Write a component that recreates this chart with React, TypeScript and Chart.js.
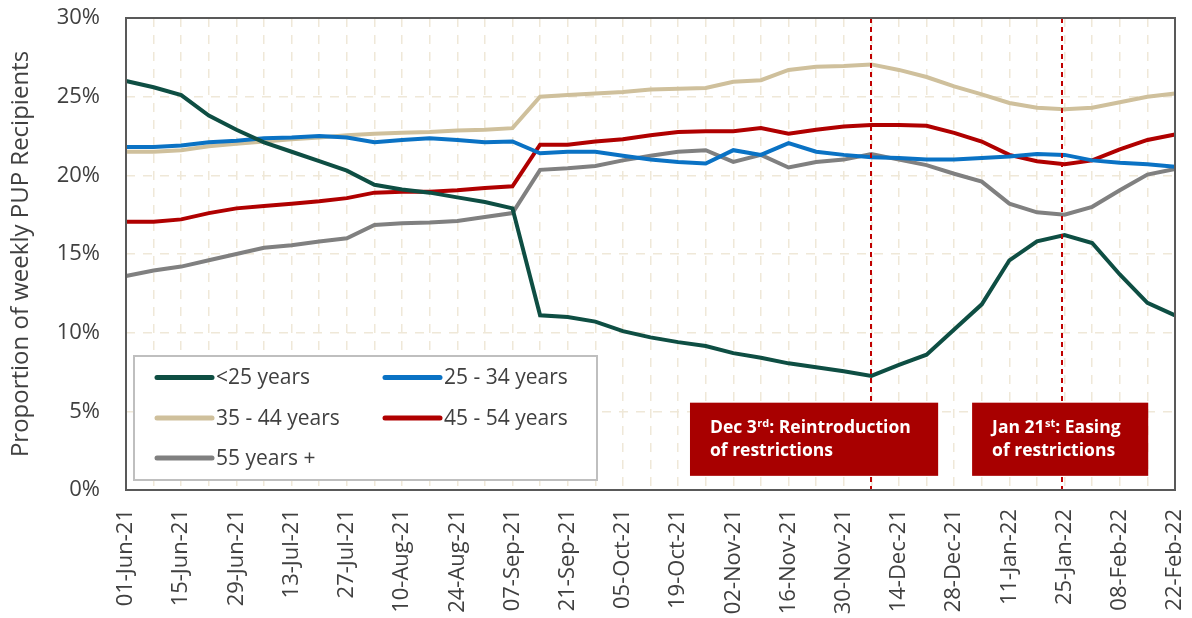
import React, { useEffect, useRef } from "react";
import { Chart, registerables } from "chart.js";

Chart.register(...registerables);

const DATES = [
  "01-Jun-21", "08-Jun-21", "15-Jun-21", "22-Jun-21", "29-Jun-21", "06-Jul-21", "13-Jul-21", "20-Jul-21",
  "27-Jul-21", "03-Aug-21", "10-Aug-21", "17-Aug-21", "24-Aug-21", "31-Aug-21", "07-Sep-21", "14-Sep-21",
  "21-Sep-21", "28-Sep-21", "05-Oct-21", "12-Oct-21", "19-Oct-21", "26-Oct-21", "02-Nov-21", "09-Nov-21",
  "16-Nov-21", "23-Nov-21", "30-Nov-21", "07-Dec-21", "14-Dec-21", "21-Dec-21", "28-Dec-21", "04-Jan-22",
  "11-Jan-22", "18-Jan-22", "25-Jan-22", "01-Feb-22", "08-Feb-22", "15-Feb-22", "22-Feb-22",
];

const SERIES_NAMES = ["<25 years", "25 - 34 years", "35 - 44 years", "45 - 54 years", "55 years +"];

const UNDER_25 = [26.0, 25.6, 25.1, 23.8, 22.9, 22.1, 21.5, 20.9, 20.3, 19.4, 19.1, 18.9, 18.6, 18.3, 17.9, 11.1, 11.0, 10.7, 10.1, 9.7, 9.4, 9.15, 8.7, 8.4, 8.05, 7.8, 7.55, 7.25, 7.95, 8.6, 10.2, 11.8, 14.6, 15.8, 16.2, 15.7, 13.7, 11.9, 11.1];
const AGE_25_34 = [21.8, 21.8, 21.9, 22.1, 22.2, 22.35, 22.4, 22.5, 22.4, 22.1, 22.25, 22.35, 22.25, 22.1, 22.15, 21.4, 21.5, 21.5, 21.25, 21.0, 20.85, 20.75, 21.6, 21.3, 22.05, 21.5, 21.3, 21.15, 21.1, 21.0, 21.0, 21.1, 21.2, 21.35, 21.3, 20.95, 20.8, 20.7, 20.55];
const AGE_35_44 = [21.5, 21.5, 21.6, 21.85, 22.0, 22.15, 22.3, 22.4, 22.55, 22.65, 22.7, 22.75, 22.85, 22.9, 23.0, 25.0, 25.1, 25.2, 25.3, 25.45, 25.5, 25.55, 25.95, 26.05, 26.7, 26.9, 26.95, 27.05, 26.7, 26.25, 25.65, 25.15, 24.6, 24.3, 24.2, 24.3, 24.65, 25.0, 25.2];
const AGE_45_54 = [17.05, 17.05, 17.2, 17.6, 17.9, 18.05, 18.2, 18.35, 18.55, 18.9, 18.95, 18.95, 19.05, 19.2, 19.3, 21.95, 21.95, 22.15, 22.3, 22.55, 22.75, 22.8, 22.8, 23.0, 22.65, 22.9, 23.1, 23.2, 23.2, 23.15, 22.7, 22.15, 21.3, 20.9, 20.7, 20.95, 21.65, 22.25, 22.6];
const AGE_55_PLUS = [13.6, 13.95, 14.2, 14.6, 15.0, 15.4, 15.55, 15.8, 16.0, 16.85, 16.95, 17.0, 17.1, 17.35, 17.6, 20.35, 20.45, 20.6, 20.95, 21.25, 21.5, 21.6, 20.85, 21.3, 20.5, 20.85, 21.0, 21.35, 21.0, 20.65, 20.1, 19.6, 18.2, 17.65, 17.5, 18.0, 19.05, 20.05, 20.4];

const SERIES_COLORS = ["#0E4E43", "#0A72C4", "#CFC09C", "#B00000", "#808080"];

const Y_MIN = 0;
const Y_MAX = 30;
const Y_STEP = 5;

const EVENT_INDEX = [27, 33.9];
const EVENT_LABELS = [
  { pre: "Dec 3", sup: "rd", post: ": Reintroduction", line2: "of restrictions" },
  { pre: "Jan 21", sup: "st", post: ": Easing", line2: "of restrictions" },
];
// box extents in data space: [xFrom, xTo, yTop, yBottom]
const EVENT_BOXES = [
  [20.43, 29.42, 5.55, 0.9],
  [30.65, 37.03, 5.55, 0.9],
];

const FONT = "'Open Sans', 'Noto Sans', sans-serif";
const TEXT_COLOR = "#404040";
const GRID_COLOR = "#EFE8D8";

const overlayPlugin = {
  id: "overlay",
  afterDatasetsDraw(chart: any) {
    const { ctx, chartArea: ca } = chart;
    const xs = chart.scales.x;
    const ys = chart.scales.y;

    // event dashed lines
    ctx.save();
    ctx.strokeStyle = "#C00000";
    ctx.lineWidth = 2;
    ctx.setLineDash([5, 4]);
    EVENT_INDEX.forEach((i) => {
      const px = Math.round(xs.getPixelForValue(i));
      ctx.beginPath();
      ctx.moveTo(px, ca.top);
      ctx.lineTo(px, ca.bottom);
      ctx.stroke();
    });
    ctx.restore();

    // event boxes
    EVENT_BOXES.forEach((b, k) => {
      const x0 = xs.getPixelForValue(b[0]);
      const x1 = xs.getPixelForValue(b[1]);
      const y0 = ys.getPixelForValue(b[2]);
      const y1 = ys.getPixelForValue(b[3]);
      ctx.save();
      ctx.fillStyle = "#A80000";
      ctx.fillRect(x0, y0, x1 - x0, y1 - y0);
      const lab = EVENT_LABELS[k];
      ctx.fillStyle = "#FFFFFF";
      ctx.textBaseline = "middle";
      ctx.textAlign = "left";
      let tx = x0 + 20;
      const ty1 = y0 + 25;
      const ty2 = y0 + 48;
      ctx.font = `bold 17.5px ${FONT}`;
      ctx.fillText(lab.pre, tx, ty1);
      tx += ctx.measureText(lab.pre).width;
      ctx.font = `bold 11px ${FONT}`;
      ctx.fillText(lab.sup, tx + 0.5, ty1 - 4);
      tx += ctx.measureText(lab.sup).width + 0.5;
      ctx.font = `bold 17.5px ${FONT}`;
      ctx.fillText(lab.post, tx, ty1);
      ctx.fillText(lab.line2, x0 + 20, ty2);
      ctx.restore();
    });

    // frame
    ctx.save();
    ctx.strokeStyle = "#595959";
    ctx.lineWidth = 2;
    ctx.strokeRect(ca.left, ca.top, ca.right - ca.left, ca.bottom - ca.top);
    ctx.restore();

    // legend
    const lx = ca.left + 8;
    const ly = ca.top + 338;
    const lw = 463;
    const lh = 124;
    ctx.save();
    ctx.fillStyle = "#FFFFFF";
    ctx.fillRect(lx, ly, lw, lh);
    ctx.strokeStyle = "#BFBFBF";
    ctx.lineWidth = 2;
    ctx.strokeRect(lx, ly, lw, lh);
    const rowY = [21.5, 62, 102];
    const colX = [23, 251];
    ctx.font = `21px ${FONT}`;
    ctx.textBaseline = "middle";
    ctx.textAlign = "left";
    chart.data.datasets.forEach((ds: any, i: number) => {
      const r = Math.floor(i / 2);
      const c = i % 2;
      const sx = lx + colX[c];
      const sy = ly + rowY[r];
      ctx.strokeStyle = ds.borderColor;
      ctx.lineWidth = 5;
      ctx.lineCap = "round";
      ctx.beginPath();
      ctx.moveTo(sx, sy);
      ctx.lineTo(sx + 55, sy);
      ctx.stroke();
      ctx.fillStyle = TEXT_COLOR;
      ctx.fillText(ds.label, sx + 59, sy + 1);
    });
    ctx.restore();
  },
};

export default function App() {
  const ref = useRef<HTMLCanvasElement | null>(null);

  useEffect(() => {
    if (!ref.current) return;
    const values = [UNDER_25, AGE_25_34, AGE_35_44, AGE_45_54, AGE_55_PLUS];
    const chart = new Chart(ref.current, {
      type: "line",
      data: {
        labels: DATES,
        datasets: SERIES_NAMES.map((name, i) => ({
          label: name,
          data: values[i],
          borderColor: SERIES_COLORS[i],
          backgroundColor: SERIES_COLORS[i],
          borderWidth: 4,
          pointRadius: 0,
          tension: 0,
          fill: false,
        })),
      },
      options: {
        animation: false,
        responsive: true,
        maintainAspectRatio: false,
        layout: { padding: { top: 18, right: 17, left: 0, bottom: 0 } },
        plugins: { legend: { display: false }, tooltip: { enabled: false } },
        scales: {
          x: {
            type: "category",
            offset: false,
            grid: { color: GRID_COLOR, lineWidth: 1.5, drawTicks: false, borderDash: [9, 8] } as any,
            border: { display: false, dash: [9, 8] },
            ticks: {
              autoSkip: false,
              minRotation: 90,
              maxRotation: 90,
              padding: 19,
              color: TEXT_COLOR,
              font: { family: FONT, size: 22 },
              callback: (_v: any, idx: number) => (idx % 2 === 0 ? DATES[idx] : ""),
            },
            afterFit: (s: any) => {
              s.height = 128;
              s.paddingLeft = 0;
              s.paddingRight = 0;
            },
          },
          y: {
            min: Y_MIN,
            max: Y_MAX,
            grid: { color: GRID_COLOR, lineWidth: 1.5, drawTicks: false, borderDash: [9, 8] } as any,
            border: { display: false, dash: [9, 8] },
            ticks: {
              stepSize: Y_STEP,
              padding: 26,
              color: TEXT_COLOR,
              font: { family: FONT, size: 22 },
              callback: (v: any) => `${v}%`,
            },
            title: {
              display: true,
              text: "Proportion of weekly PUP Recipients",
              color: TEXT_COLOR,
              font: { family: FONT, size: 24 },
              padding: { top: 7, bottom: 2 },
            },
            afterFit: (s: any) => {
              s.width = 126;
              s.paddingTop = 0;
              s.paddingBottom = 0;
            },
          },
        },
      },
      plugins: [overlayPlugin],
    });
    return () => chart.destroy();
  }, []);

  return (
    <div style={{ position: "absolute", left: 0, top: 0, width: 1192, height: 618 }}>
      <canvas ref={ref} />
    </div>
  );
}
